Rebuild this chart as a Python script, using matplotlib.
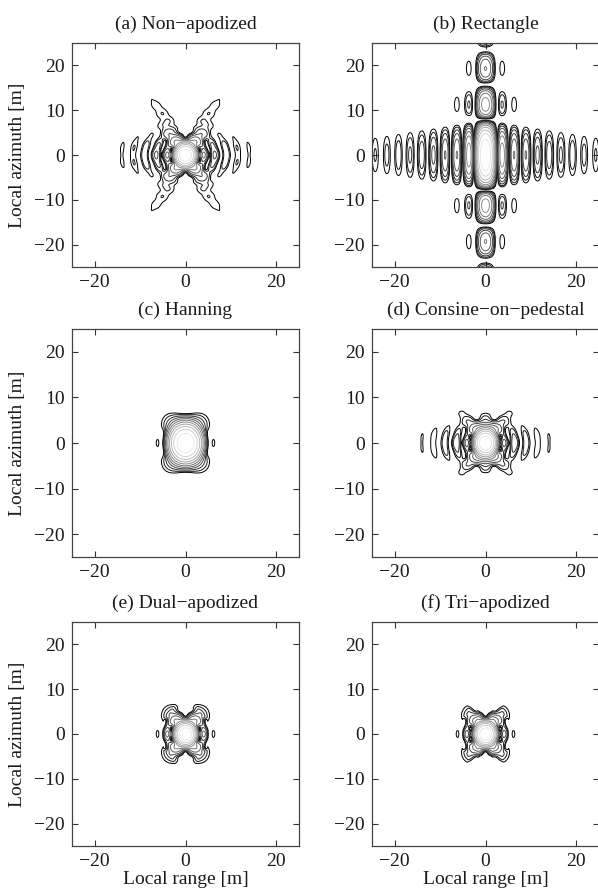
import numpy as np
import matplotlib
matplotlib.use("Agg")
import matplotlib.pyplot as plt
from matplotlib.colors import Normalize

plt.rcParams['font.family'] = ['Liberation Serif', 'DejaVu Serif']
plt.rcParams['font.size'] = 14

# ---- chart text / axes values ----
titles = ["(a) Non\u2212apodized", "(b) Rectangle", "(c) Hanning",
          "(d) Consine\u2212on\u2212pedestal", "(e) Dual\u2212apodized", "(f) Tri\u2212apodized"]
xticks = [-20, 0, 20]
yticks = [-20, -10, 0, 10, 20]
axis_lim = [-25, 25]
levels_db = [-33, -30, -27, -24, -21, -18, -15, -12, -9, -6, -3]

# ---- spectral-support parameters ----
k_band = [0.75, 3.23]            # radial wavenumber support [rad/m]
half_angle_deg = [30.0]          # angular half-aperture of the spectrum
rect_half_ky = [0.40]            # half-height of the rectangular cut [rad/m]
natural_taper = [0.5, 0.5, 0.6]  # [edge level in angle, k exponent, radial pedestal]
cop_pedestal = [0.5, 0.35]       # cosine-on-pedestal: [radial, angular]

kmin, kmax = k_band
alpha = np.deg2rad(half_angle_deg[0])
dk = 0.01
kx = np.arange(0.3, 3.3 + dk / 2, dk)
ky = np.arange(-2.0, 2.0 + dk / 2, dk)
KX, KY = np.meshgrid(kx, ky, indexing='ij')
R = np.hypot(KX, KY)
TH = np.arctan2(KY, KX)

def soft(d):
    return np.clip(d / dk + 0.5, 0.0, 1.0)

def cop(u, p):
    return p + (1 - p) * (0.5 + 0.5 * np.cos(2 * np.pi * u))

sector = soft(np.minimum.reduce([R - kmin, kmax - R, (alpha - np.abs(TH)) * R]))
hy = rect_half_ky[0]
kx1 = hy / np.tan(alpha) if hy / np.tan(alpha) > kmin else kmin
kx1 = max(kmin, hy / np.tan(alpha))
kx2 = np.sqrt(kmax ** 2 - hy ** 2)
rect = soft(np.minimum.reduce([KX - kx1, kx2 - KX, hy - np.abs(KY)]))

ur = np.clip((R - 0.5 * (kmin + kmax)) / (kmax - kmin), -0.5, 0.5)
ut = np.clip(TH / (2 * alpha), -0.5, 0.5)
te, q, prn = natural_taper
natural = np.exp(np.log(te) * (TH / alpha) ** 2) * R ** (-q) * cop(ur, prn)
base = R ** (-q)
hann = base * cop(ur, 0.0) * cop(ut, 0.0)
cosped = base * cop(ur, cop_pedestal[0]) * cop(ut, cop_pedestal[1])

x = np.arange(-26, 26.001, 0.1)
y = np.arange(-26, 26.001, 0.1)
Ex = np.exp(1j * np.outer(x, kx))
Ey = np.exp(1j * np.outer(ky, y))

def psf(W):
    P = np.abs(Ex @ (W @ Ey)).T   # rows: y, cols: x
    return P / P.max()

A = psf(sector * natural)
B = psf(rect)
C = psf(sector * hann)
D = psf(sector * cosped)
E = np.minimum(A, C)
F = np.minimum.reduce([A, C, D])
fields = [A, B, C, D, E, F]

def todb(M):
    return 20 * np.log10(np.maximum(M, 1e-6))

# ---- figure ----
W_px, H_px = 598, 893
fig = plt.figure(figsize=(W_px / 100, H_px / 100), dpi=100)
lefts = [72, 372]
width = 227
rows = [(43, 267), (329, 557), (622, 846)]
norm = Normalize(vmin=levels_db[0], vmax=0)
for i, Z in enumerate(fields):
    r, c = divmod(i, 2)
    top, bot = rows[r]
    ax = fig.add_axes([lefts[c] / W_px, 1 - bot / H_px, width / W_px, (bot - top) / H_px])
    ax.contour(x, y, todb(Z), levels=levels_db, cmap='gray', norm=norm, linewidths=0.7)
    ax.set_xlim(axis_lim)
    ax.set_ylim(axis_lim)
    ax.set_xticks(xticks)
    ax.set_yticks(yticks)
    ax.tick_params(direction='in', top=True, right=True, length=4, width=0.8,
                   colors='#333333', labelcolor='#1a1a1a', pad=5, labelsize=14)
    for s in ax.spines.values():
        s.set_color('#444444')
        s.set_linewidth(0.9)
    ax.set_title(titles[i], fontsize=14, pad=10, color='#1a1a1a')
    if c == 0:
        ax.set_ylabel("Local azimuth [m]", fontsize=14, labelpad=6, color='#1a1a1a')
    if r == 2:
        ax.set_xlabel("Local range [m]", fontsize=14, labelpad=1, color='#1a1a1a')

fig.savefig("out.png", dpi=100)
